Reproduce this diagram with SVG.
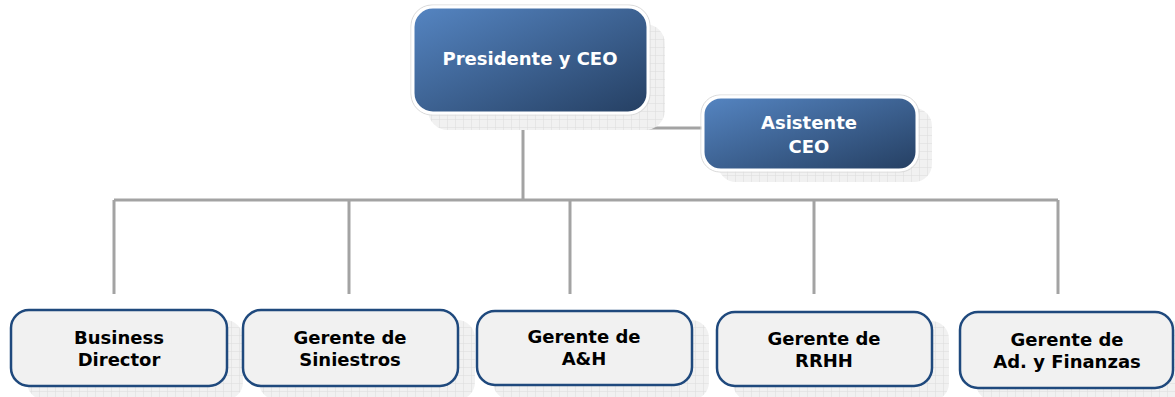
<svg xmlns="http://www.w3.org/2000/svg" width="1175" height="397" viewBox="0 0 1175 397">
<defs>
<linearGradient id="blue" x1="0" y1="0" x2="1" y2="1">
<stop offset="0" stop-color="#5585c2"/>
<stop offset="1" stop-color="#253f62"/>
</linearGradient>
<pattern id="grid" width="8" height="8" patternUnits="userSpaceOnUse">
<rect width="8" height="8" fill="#f1f1f1"/>
<path d="M8 0V8M0 8H8" stroke="#dcdcdc" stroke-width="1" fill="none"/>
</pattern>
<style>
.shadow{fill:url(#grid);}
.top{fill:url(#blue);stroke:#ffffff;stroke-width:3;}
.topo{fill:none;stroke:#d9d9d9;stroke-width:1;}
.bot{fill:#f1f1f1;stroke:#1f497d;stroke-width:2.5;}
.tw{font-family:"DejaVu Sans",Verdana,sans-serif;font-weight:bold;font-size:18px;fill:#ffffff;text-anchor:middle;}
.tb{font-family:"DejaVu Sans",Verdana,sans-serif;font-weight:bold;font-size:18px;fill:#000000;text-anchor:middle;}
.con{stroke:#a3a3a3;stroke-width:3;fill:none;}
</style>
</defs>
<rect width="1175" height="397" fill="#ffffff"/>
<g id="connectors">
<path class="con" d="M523 113V200M523 128H704M114 200H1058M114 200V294M349 200V294M570 200V294M814 200V294M1058 200V294"/>
</g>
<g id="n-presidente">
<rect class="shadow" x="428" y="24" width="237" height="106" rx="20"/>
<rect class="topo" x="411" y="5" width="239" height="110" rx="21"/>
<rect class="top" x="413" y="7" width="235" height="106" rx="20"/>
<text class="tw" x="530" y="65">Presidente y CEO</text>
</g>
<g id="n-asistente">
<rect class="shadow" x="718" y="108" width="214" height="74" rx="18"/>
<rect class="topo" x="701" y="95" width="218" height="77" rx="19"/>
<rect class="top" x="703" y="97" width="214" height="73" rx="18"/>
<text class="tw" x="809" y="129">Asistente</text>
<text class="tw" x="809" y="153">CEO</text>
</g>
<g id="n-business">
<rect class="shadow" x="27" y="320" width="216" height="80" rx="18"/>
<rect class="bot" x="11" y="310" width="216" height="76" rx="18"/>
<text class="tb" x="119" y="344">Business</text>
<text class="tb" x="119" y="366">Director</text>
</g>
<g id="n-siniestros">
<rect class="shadow" x="259" y="320" width="216" height="80" rx="18"/>
<rect class="bot" x="243" y="310" width="215" height="76" rx="18"/>
<text class="tb" x="350" y="344">Gerente de</text>
<text class="tb" x="350" y="366">Siniestros</text>
</g>
<g id="n-ah">
<rect class="shadow" x="493" y="320" width="216" height="80" rx="18"/>
<rect class="bot" x="477" y="311" width="215" height="74" rx="18"/>
<text class="tb" x="584" y="343">Gerente de</text>
<text class="tb" x="584" y="365">A&amp;H</text>
</g>
<g id="n-rrhh">
<rect class="shadow" x="733" y="321" width="216" height="80" rx="18"/>
<rect class="bot" x="717" y="312" width="215" height="74" rx="18"/>
<text class="tb" x="824" y="345">Gerente de</text>
<text class="tb" x="824" y="367">RRHH</text>
</g>
<g id="n-finanzas">
<rect class="shadow" x="976" y="321" width="216" height="80" rx="18"/>
<rect class="bot" x="960" y="312" width="213" height="76" rx="18"/>
<text class="tb" x="1067" y="346">Gerente de</text>
<text class="tb" x="1067" y="368">Ad. y Finanzas</text>
</g>
</svg>
